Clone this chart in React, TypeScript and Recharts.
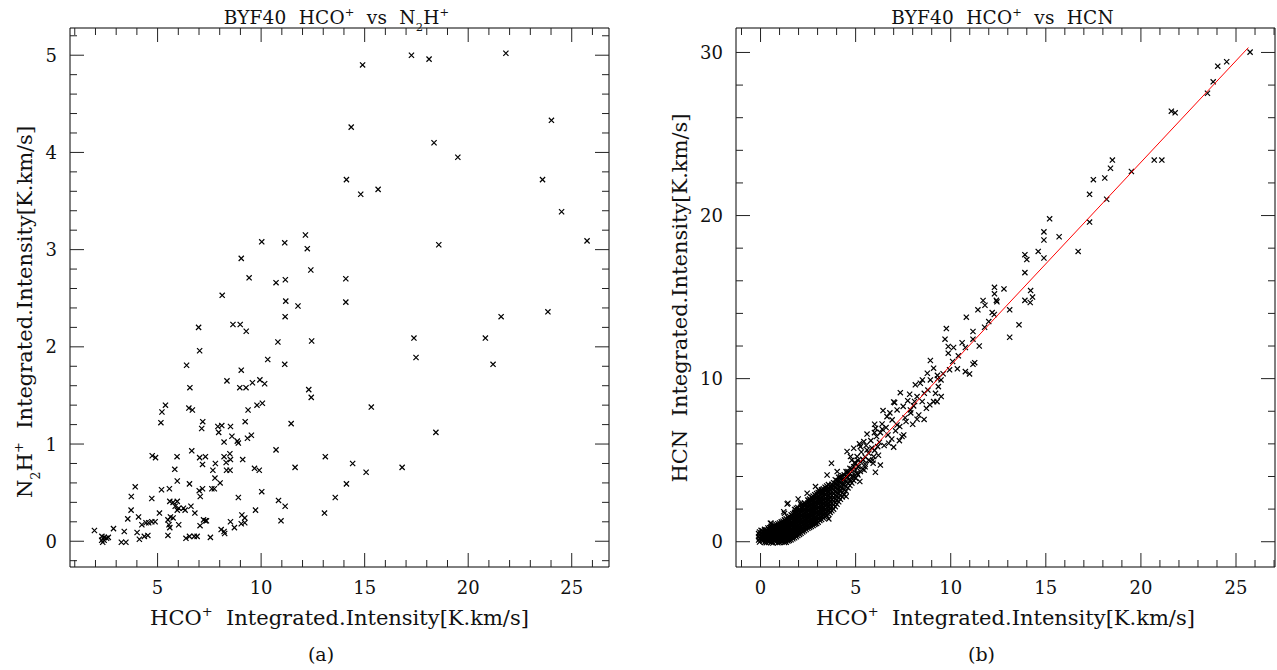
import React from 'react';
import { ScatterChart, Scatter, XAxis, YAxis } from 'recharts';

const FONT = '"DejaVu Serif", serif';
const INK = '#111';

// ---------- Panel (a): HCO+ vs N2H+ ----------
const n2hPoints: [number, number][] = [
  [14.90,4.90],[17.26,5.00],[18.11,4.96],[21.82,5.02],[14.35,4.26],[24.02,4.33],[18.35,4.10],[19.50,3.95],
  [14.12,3.72],[14.81,3.57],[15.65,3.62],[23.59,3.72],[24.51,3.39],[12.14,3.15],[10.03,3.08],[11.14,3.07],
  [12.23,3.01],[18.58,3.05],[25.74,3.09],[9.04,2.91],[12.40,2.79],[9.42,2.71],[10.72,2.66],[11.17,2.69],
  [14.09,2.70],[8.12,2.53],[11.19,2.47],[11.78,2.42],[14.09,2.46],[11.16,2.31],[21.59,2.31],[23.85,2.36],
  [6.98,2.20],[8.64,2.23],[8.99,2.23],[9.28,2.16],[10.81,2.05],[12.44,2.06],[17.38,2.09],[20.83,2.09],
  [7.03,1.96],[17.48,1.89],[21.20,1.82],[10.32,1.87],[11.14,1.82],[6.40,1.81],[9.04,1.76],[8.35,1.65],
  [6.56,1.58],[8.97,1.58],[9.27,1.58],[9.58,1.63],[9.94,1.66],[10.17,1.62],[12.30,1.56],[12.42,1.48],
  [5.38,1.40],[5.21,1.33],[5.16,1.22],[6.51,1.37],[6.68,1.35],[9.37,1.35],[9.80,1.40],[10.06,1.42],
  [15.32,1.38],[7.18,1.23],[7.13,1.16],[7.91,1.18],[8.10,1.19],[7.95,1.12],[8.52,1.18],[9.23,1.23],
  [11.45,1.21],[18.44,1.12],[8.21,1.02],[8.59,1.08],[8.85,1.03],[8.90,1.01],[9.34,1.06],[9.53,1.09],
  [4.74,0.88],[4.90,0.86],[5.94,0.87],[6.65,0.93],[7.03,0.86],[7.31,0.87],[7.17,0.79],[8.21,0.87],
  [8.31,0.81],[8.49,0.90],[8.52,0.84],[9.11,0.84],[7.79,0.80],[7.67,0.73],[8.33,0.73],[8.50,0.73],
  [5.83,0.74],[10.72,0.94],[13.10,0.87],[14.42,0.80],[9.68,0.75],[9.91,0.73],[11.64,0.76],[15.07,0.71],
  [16.81,0.76],[7.77,0.65],[8.02,0.60],[5.95,0.62],[6.54,0.59],[14.12,0.59],[3.92,0.56],[5.19,0.53],
  [5.57,0.54],[7.01,0.52],[7.17,0.54],[7.62,0.54],[7.74,0.54],[7.06,0.46],[10.03,0.51],[8.90,0.45],
  [10.84,0.42],[11.16,0.36],[13.58,0.45],[3.73,0.46],[4.72,0.44],[5.59,0.41],[5.75,0.40],[5.95,0.41],
  [5.85,0.36],[6.02,0.34],[6.25,0.34],[6.33,0.32],[6.61,0.36],[6.80,0.29],[5.95,0.32],[3.72,0.32],
  [3.56,0.23],[4.08,0.25],[5.09,0.29],[5.50,0.22],[5.62,0.25],[5.75,0.24],[5.55,0.17],[5.59,0.14],
  [6.02,0.17],[4.24,0.17],[4.44,0.19],[4.57,0.19],[4.88,0.20],[4.72,0.20],[9.73,0.32],[10.96,0.21],
  [13.06,0.29],[7.22,0.22],[7.31,0.21],[7.36,0.21],[7.05,0.16],[8.52,0.20],[9.07,0.27],[9.21,0.24],
  [9.04,0.18],[9.21,0.19],[8.71,0.14],[8.07,0.12],[8.21,0.10],[8.24,0.08],[2.87,0.13],[1.95,0.11],
  [3.39,0.10],[4.01,0.09],[4.53,0.06],[4.36,0.05],[5.50,0.06],[2.31,0.05],[2.43,0.04],[2.54,0.03],
  [2.62,0.04],[2.35,-0.01],[2.30,0.01],[2.42,0.01],[3.25,-0.01],[3.47,-0.01],[4.12,0.02],[6.37,0.03],
  [6.54,0.05],[6.77,0.05],[6.91,0.05],[7.55,0.04],
];
const n2hXDomain: [number, number] = [0.77, 26.8];
const n2hYDomain: [number, number] = [-0.265, 5.28];
const n2hXTicks = [1,2,3,4,5,6,7,8,9,10,11,12,13,14,15,16,17,18,19,20,21,22,23,24,25,26];
const n2hXMajor = [5,10,15,20,25];
const n2hYTicks = [-0.2,0,0.2,0.4,0.6,0.8,1,1.2,1.4,1.6,1.8,2,2.2,2.4,2.6,2.8,3,3.2,3.4,3.6,3.8,4,4.2,4.4,4.6,4.8,5,5.2];
const n2hYMajor = [0,1,2,3,4,5];

// ---------- Panel (b): HCO+ vs HCN ----------
// dense core near the origin, read as columns: [x, y values]
const hcnCoreCols: [number, number[]][] = [
  [-0.05,[-0.02,0.2,0.41,0.6]],
  [0.03,[0.1,0.3,0.5,0.7]],
  [0.12,[0.05,0.25,0.44,0.66]],
  [0.21,[-0.05,0.15,0.35,0.55,0.76]],
  [0.3,[-0.06,0.14,0.33,0.52,0.74]],
  [0.39,[0.04,0.24,0.43,0.63,0.84]],
  [0.48,[0.02,0.22,0.41,0.62,0.86]],
  [0.56,[-0.04,0.12,0.32,0.52,0.73,0.95]],
  [0.65,[-0.08,0.1,0.3,0.5,0.7,0.95]],
  [0.74,[0.05,0.21,0.41,0.6,0.82,1.0]],
  [0.82,[0.0,0.19,0.39,0.6,0.81,1.05]],
  [0.91,[-0.06,0.1,0.29,0.5,0.7,0.91,1.1]],
  [1.0,[-0.05,0.12,0.31,0.52,0.72,0.92,1.15]],
  [1.09,[0.02,0.21,0.41,0.62,0.82,1.02,1.22]],
  [1.18,[0.05,0.24,0.44,0.64,0.85,1.05,1.26]],
  [1.26,[-0.04,0.14,0.34,0.54,0.74,0.95,1.15,1.34]],
  [1.35,[-0.03,0.15,0.36,0.57,0.78,0.98,1.2,1.4]],
  [1.44,[0.04,0.25,0.46,0.67,0.88,1.08,1.3,1.5]],
  [1.52,[0.08,0.3,0.5,0.7,0.92,1.12,1.35,1.55]],
  [1.61,[0.12,0.34,0.56,0.78,1.0,1.2,1.42,1.65]],
  [1.7,[0.18,0.4,0.62,0.84,1.05,1.27,1.5,1.72]],
  [1.79,[0.24,0.46,0.68,0.9,1.12,1.34,1.56,1.8,1.98]],
  [1.88,[0.3,0.52,0.73,0.95,1.18,1.4,1.62,1.86,2.05]],
  [1.96,[0.38,0.6,0.82,1.04,1.26,1.48,1.7,1.92,2.1]],
  [2.05,[0.45,0.66,0.88,1.1,1.32,1.55,1.78,2.0]],
  [2.13,[0.52,0.74,0.96,1.18,1.4,1.62,1.85,2.08,2.25]],
  [2.22,[0.6,0.82,1.03,1.25,1.47,1.7,1.92,2.15,2.3]],
  [2.31,[0.68,0.9,1.12,1.34,1.56,1.78,2.0,2.22,2.38]],
  [2.4,[0.75,0.96,1.18,1.4,1.62,1.85,2.08,2.3]],
  [2.49,[0.82,1.04,1.26,1.48,1.7,1.92,2.15,2.38,2.55]],
  [2.58,[0.88,1.1,1.32,1.55,1.77,2.0,2.22,2.45,2.62]],
  [2.67,[0.94,1.16,1.38,1.6,1.83,2.06,2.3,2.52,2.72]],
  [2.76,[1.0,1.22,1.45,1.68,1.9,2.12,2.36,2.6,2.8]],
  [2.85,[1.06,1.28,1.5,1.73,1.96,2.2,2.42,2.66,2.88]],
  [2.95,[1.12,1.35,1.58,1.8,2.02,2.25,2.5,2.72,2.95]],
  [3.03,[1.2,1.42,1.65,1.88,2.1,2.34,2.58,2.82,3.02]],
  [3.12,[1.3,1.52,1.75,1.98,2.2,2.42,2.66,2.9,3.1]],
  [3.21,[1.36,1.6,1.82,2.05,2.28,2.5,2.74,2.98,3.18]],
  [3.3,[1.45,1.68,1.9,2.12,2.35,2.58,2.82,3.05,3.25]],
  [3.39,[1.52,1.76,1.98,2.2,2.44,2.66,2.9,3.14,3.34]],
  [3.48,[1.6,1.85,2.08,2.3,2.52,2.76,3.0,3.22,3.42]],
  [3.57,[1.7,1.94,2.16,2.38,2.6,2.84,3.08,3.3,3.5]],
  [3.66,[1.8,2.02,2.25,2.48,2.7,2.93,3.18,3.4]],
  [3.75,[1.9,2.14,2.36,2.6,2.82,3.05,3.28,3.52]],
  [3.84,[2.0,2.25,2.48,2.7,2.93,3.15,3.4,3.62]],
  [3.93,[2.15,2.4,2.62,2.86,3.1,3.34,3.58,3.8]],
  [4.02,[2.3,2.55,2.78,3.0,3.25,3.5,3.75]],
  [4.11,[2.45,2.7,2.95,3.2,3.45,3.7,3.95]],
  [4.2,[2.6,2.85,3.1,3.35,3.6,3.9]],
  [4.3,[2.75,3.0,3.28,3.55,3.82,4.05]],
  [4.4,[2.9,3.2,3.5,3.8,4.1]],
  [4.5,[3.1,3.4,3.7,4.0,4.3]],
  [4.6,[3.3,3.6,3.95,4.3]],
  [4.7,[3.45,3.8,4.15,4.5]],
  [4.8,[3.6,4.0,4.45]],
  [4.9,[3.75,4.15,4.6]],
  [5.0,[3.9,4.4,4.8]],
  [5.12,[4.1,4.6,5.0]],
  [5.25,[4.3,4.9]],
  [5.38,[4.45,5.05]],
  [5.5,[4.6,5.2]],
];
// second, offset layer of the solid black core (x 0 - 3.6)
const hcnCoreFill: [number, number[]][] = [
  [-0.1,[0.1,0.31,0.5]],
  [0.08,[0.15,0.35,0.55]],
  [0.26,[0.05,0.24,0.44,0.64]],
  [0.44,[0.12,0.32,0.52,0.74]],
  [0.6,[0.02,0.2,0.4,0.6,0.83]],
  [0.78,[0.1,0.3,0.5,0.7,0.92]],
  [0.96,[0.02,0.21,0.41,0.62,0.82,1.03]],
  [1.13,[0.12,0.32,0.52,0.73,0.94,1.14]],
  [1.31,[0.05,0.25,0.46,0.67,0.88,1.08,1.3]],
  [1.48,[0.15,0.36,0.58,0.8,1.0,1.22,1.44]],
  [1.66,[0.28,0.5,0.72,0.94,1.16,1.38,1.6]],
  [1.84,[0.4,0.62,0.84,1.06,1.28,1.5,1.74,1.94]],
  [2.01,[0.55,0.77,0.99,1.21,1.43,1.66,1.9]],
  [2.18,[0.7,0.92,1.14,1.36,1.58,1.81,2.04]],
  [2.36,[0.85,1.07,1.29,1.51,1.74,1.97,2.2]],
  [2.54,[0.98,1.2,1.42,1.65,1.88,2.1,2.33,2.52]],
  [2.72,[1.1,1.33,1.56,1.79,2.01,2.24,2.48,2.7]],
  [2.9,[1.24,1.46,1.69,1.92,2.14,2.37,2.6,2.84]],
  [3.08,[1.4,1.63,1.86,2.09,2.31,2.54,2.78,3.0]],
  [3.26,[1.56,1.79,2.01,2.24,2.46,2.7,2.94,3.15]],
  [3.44,[1.72,1.96,2.19,2.41,2.64,2.88,3.1,3.3]],
  [3.62,[1.9,2.13,2.36,2.59,2.82,3.05,3.28]],
];
const hcnMidPoints: [number, number][] = [
  [10.82,13.77],[11.43,14.22],[11.70,14.79],[12.18,14.05],[12.29,13.93],[12.43,14.71],[13.10,14.22],
  [14.18,14.67],[13.59,13.30],[13.10,12.54],[11.78,13.15],[11.17,12.89],[11.17,12.42],[10.77,11.91],
  [9.77,13.07],[9.70,12.42],[9.87,11.97],[9.87,11.56],[10.15,11.91],[8.93,11.11],[10.10,11.05],
  [10.35,10.60],[9.94,10.54],[10.77,10.43],[10.99,10.29],[11.26,10.98],[11.17,10.88],[9.10,10.64],
  [8.77,10.33],[8.51,9.92],[8.93,9.92],[9.31,9.98],[9.49,9.92],[9.35,9.51],[8.40,9.72],[8.14,9.62],
  [7.35,9.14],[7.84,9.04],[8.23,8.90],[8.61,9.10],[7.00,8.57],[7.05,8.53],[7.74,8.65],[9.10,8.59],
  [9.28,8.59],[8.05,8.33],[8.72,8.18],[6.44,8.04],[7.18,8.08],[7.88,8.08],[8.32,7.77],[8.23,7.51],
  [6.65,7.67],[6.92,7.47],[7.32,7.06],[7.65,7.37],[7.18,7.16],[6.39,7.22],[5.99,6.69],[6.30,6.69],
  [7.53,6.55],[7.44,6.45],[6.74,6.04],[6.16,5.83],[5.43,6.14],[4.90,5.73],[5.25,5.83],[5.60,5.63],
  [5.69,5.42],[5.95,5.22],[5.92,4.81],[6.04,4.26],[5.69,5.01],[5.39,5.01],[4.55,5.53],[4.73,5.22],
  [5.08,5.22],[3.73,4.81],[4.03,4.30],[3.50,4.09],[4.20,3.99],[4.55,4.20],[4.73,3.69],[4.90,3.99],
  [5.08,4.20],[5.16,4.61],[5.22,3.69],[4.38,2.87],[4.50,2.77],[2.89,3.38],[3.06,3.17],[3.24,3.07],
  [3.76,3.38],[4.20,3.17],[4.03,3.48],[2.45,2.97],[1.98,2.62],[1.44,2.36],[3.59,1.40],[3.19,1.95],
  [2.89,1.13],[1.26,1.74],[2.10,2.36],[2.63,2.56],[3.15,2.56],[3.50,2.77],[3.76,2.56],[0.52,1.13],
  [1.40,2.31],[1.22,1.84],[0.56,1.13],
  [5.30,5.50],[5.55,5.90],[5.80,6.20],[6.10,6.45],[6.40,6.90],[6.60,7.00],[6.00,5.60],[5.75,4.95],
  [6.20,5.30],[6.50,5.90],[6.90,6.30],[7.10,6.80],[7.60,7.60],[7.90,7.90],[8.10,8.60],[8.50,8.60],
  [8.80,9.30],[9.20,9.10],[9.60,10.30],[9.30,10.20],[7.50,8.30],[6.80,7.90],[6.00,7.20],[5.60,6.60],
  [5.20,6.00],[4.80,5.00],[5.90,5.00],[6.30,4.70],[7.00,5.80],[7.30,6.20],[8.00,7.20],[8.60,7.50],
  [8.90,8.40],[9.50,8.90],[10.40,11.40],[10.60,12.20],[11.50,12.00],[12.00,13.50],[5.45,4.40],
  [5.85,5.75],[6.25,6.10],[4.95,4.85],[5.50,4.75],[6.05,6.95],[6.70,6.55],
];
const hcnHighPoints: [number, number][] = [
  [25.74,30.02],[24.51,29.43],[24.04,29.16],[23.8,28.2],[23.5,27.5],[21.6,26.4],[21.8,26.3],[21.1,23.4],
  [20.7,23.4],[19.5,22.7],[18.5,23.4],[18.4,22.9],[17.5,22.2],[18.1,22.3],[17.3,21.3],[18.2,21.0],
  [17.3,19.6],[16.7,17.8],[15.2,19.8],[14.9,19.0],[15.7,18.7],[14.9,18.5],[14.6,17.8],[14.9,17.4],
  [13.9,17.6],[14.0,17.3],[13.9,16.5],[14.2,15.4],[14.3,15.0],[13.9,14.8],[12.8,15.5],[12.3,15.6],
  [12.3,15.2],[12.4,14.8],[11.8,14.5],
];
const fitX = [4.3, 25.65];
const fitY = [3.72, 30.30];
const hcnXDomain: [number, number] = [-1.29, 27.05];
const hcnYDomain: [number, number] = [-1.55, 31.5];
const hcnXTicks = [-1,0,1,2,3,4,5,6,7,8,9,10,11,12,13,14,15,16,17,18,19,20,21,22,23,24,25,26,27];
const hcnXMajor = [0,5,10,15,20,25];
const hcnYTicks = [0,2,4,6,8,10,12,14,16,18,20,22,24,26,28,30];
const hcnYMajor = [0,10,20,30];

type Seg = [string, number];
const titleA: Seg[] = [['BYF40  HCO',0],['+',1],['  vs  N',0],['2',-1],['H',0],['+',1]];
const titleB: Seg[] = [['BYF40  HCO',0],['+',1],['  vs  HCN',0]];
const xTitle: Seg[] = [['HCO',0],['+',1],['  Integrated.Intensity[K.km/s]',0]];
const yTitleA: Seg[] = [['N',0],['2',-1],['H',0],['+',1],['  Integrated.Intensity[K.km/s]',0]];
const yTitleB: Seg[] = [['HCN  Integrated.Intensity[K.km/s]',0]];

type Pt = { x: number; y: number };
const toPts = (a: [number, number][]): Pt[] => a.map(([x, y]) => ({ x, y }));
const fromCols = (c: [number, number[]][]): Pt[] => c.flatMap(([x, ys]) => ys.map((y) => ({ x, y })));
const n2hData = toPts(n2hPoints);
const hcnData: Pt[] = [
  ...fromCols(hcnCoreCols),
  ...fromCols(hcnCoreFill),
  ...toPts(hcnMidPoints),
  ...toPts(hcnHighPoints),
];
const fitData: Pt[] = fitX.map((x, i) => ({ x, y: fitY[i] }));

function rich(segs: Seg[], size: number) {
  let cur = 0;
  return segs.map((s, i) => {
    const target = s[1] > 0 ? -0.42 * size : s[1] < 0 ? 0.38 * size : 0;
    const dy = target - cur;
    cur = target;
    return (
      <tspan key={i} dy={dy} fontSize={s[1] !== 0 ? size * 0.62 : size}>
        {s[0]}
      </tspan>
    );
  });
}

function Cross(props: any) {
  const { cx, cy } = props;
  if (cx == null || cy == null) return <g />;
  const r = 2.6;
  return (
    <path
      d={`M${cx - r},${cy - r}L${cx + r},${cy + r}M${cx - r},${cy + r}L${cx + r},${cy - r}`}
      stroke="#000"
      strokeWidth={1.2}
      fill="none"
    />
  );
}
const NoShape = () => <g />;

const TICK_FS = 18;
function tickFactory(side: 'bottom' | 'top' | 'left' | 'right', majors: number[], showLabel: boolean) {
  return (props: any) => {
    const { x, y, payload } = props;
    const v = payload.value;
    const major = majors.includes(v);
    const len = major ? 14 : 7;
    let line: React.ReactNode = null;
    let label: React.ReactNode = null;
    if (side === 'bottom') {
      line = <line x1={x} y1={y} x2={x} y2={y - len} stroke="#222" strokeWidth={1} />;
      if (major && showLabel)
        label = <text x={x} y={y + 27} textAnchor="middle" fontFamily={FONT} fontSize={TICK_FS} fill={INK}>{v}</text>;
    } else if (side === 'top') {
      line = <line x1={x} y1={y} x2={x} y2={y + len} stroke="#222" strokeWidth={1} />;
    } else if (side === 'left') {
      line = <line x1={x} y1={y} x2={x + len} y2={y} stroke="#222" strokeWidth={1} />;
      if (major && showLabel)
        label = <text x={x - 13} y={y + 6.5} textAnchor="end" fontFamily={FONT} fontSize={TICK_FS} fill={INK}>{v}</text>;
    } else {
      line = <line x1={x} y1={y} x2={x - len} y2={y} stroke="#222" strokeWidth={1} />;
    }
    return <g>{line}{label}</g>;
  };
}

interface PanelProps {
  offsetX: number;
  width: number;
  data: Pt[];
  fit?: Pt[];
  xDomain: [number, number];
  xTicks: number[];
  xMajor: number[];
  yDomain: [number, number];
  yTicks: number[];
  yMajor: number[];
  leftW: number;
  rightW: number;
  title: Seg[];
  yTitle: Seg[];
  yTitleX: number;
  yTitleY: number;
  caption: string;
  captionX: number;
}

const AX_FS = 21;
const TITLE_FS = 18.5;

function Panel(p: PanelProps) {
  const cx = (p.leftW + (p.width - p.rightW)) / 2;
  const axisLine = { stroke: '#000', strokeWidth: 1 };
  return (
    <div style={{ position: 'absolute', left: p.offsetX, top: 0, width: p.width, height: 670 }}>
      <ScatterChart width={p.width} height={670} margin={{ top: 0, right: 0, bottom: 0, left: 0 }}>
        <XAxis
          xAxisId="b" type="number" dataKey="x" orientation="bottom" height={103}
          domain={p.xDomain} ticks={p.xTicks} interval={0} allowDataOverflow
          tickSize={0} tickMargin={0} tickLine={false} axisLine={axisLine}
          tick={tickFactory('bottom', p.xMajor, true)}
          label={() => (
            <g>
              <text x={cx} y={625} textAnchor="middle" fontFamily={FONT} fontSize={AX_FS} fill={INK} style={{ whiteSpace: 'pre' }}>
                {rich(xTitle, AX_FS)}
              </text>
              <text x={p.captionX} y={661} textAnchor="middle" fontFamily={FONT} fontSize={19} fill={INK}>
                {p.caption}
              </text>
            </g>
          )}
        />
        <XAxis
          xAxisId="t" type="number" dataKey="x" orientation="top" height={28}
          domain={p.xDomain} ticks={p.xTicks} interval={0} allowDataOverflow
          tickSize={0} tickMargin={0} tickLine={false} axisLine={axisLine}
          tick={tickFactory('top', p.xMajor, false)}
          label={() => (
            <text x={cx - 3} y={24} textAnchor="middle" fontFamily={FONT} fontSize={TITLE_FS} letterSpacing={0.2} fill={INK} style={{ whiteSpace: 'pre' }}>
              {rich(p.title, TITLE_FS)}
            </text>
          )}
        />
        <YAxis
          yAxisId="l" type="number" dataKey="y" orientation="left" width={p.leftW}
          domain={p.yDomain} ticks={p.yTicks} interval={0} allowDataOverflow
          tickSize={0} tickMargin={0} tickLine={false} axisLine={axisLine}
          tick={tickFactory('left', p.yMajor, true)}
          label={() => (
            <text
              transform={`translate(${p.yTitleX},${p.yTitleY}) rotate(-90)`}
              textAnchor="middle" fontFamily={FONT} fontSize={AX_FS} fill={INK} style={{ whiteSpace: 'pre' }}
            >
              {rich(p.yTitle, AX_FS)}
            </text>
          )}
        />
        <YAxis
          yAxisId="r" type="number" dataKey="y" orientation="right" width={p.rightW}
          domain={p.yDomain} ticks={p.yTicks} interval={0} allowDataOverflow
          tickSize={0} tickMargin={0} tickLine={false} axisLine={axisLine}
          tick={tickFactory('right', p.yMajor, false)}
        />
        <Scatter xAxisId="b" yAxisId="l" data={p.data} shape={Cross} isAnimationActive={false} />
        <Scatter xAxisId="t" yAxisId="r" data={[]} shape={NoShape} isAnimationActive={false} />
        {p.fit && (
          <Scatter
            xAxisId="b" yAxisId="l" data={p.fit} shape={NoShape}
            line={{ stroke: '#ff0000', strokeWidth: 1 }} isAnimationActive={false}
          />
        )}
      </ScatterChart>
    </div>
  );
}

export default function App() {
  return (
    <div style={{ position: 'absolute', left: 0, top: 0, width: 1277, height: 670, background: '#fff' }}>
      <Panel
        offsetX={0} width={640} data={n2hData}
        xDomain={n2hXDomain} xTicks={n2hXTicks} xMajor={n2hXMajor}
        yDomain={n2hYDomain} yTicks={n2hYTicks} yMajor={n2hYMajor}
        leftW={70} rightW={31}
        title={titleA} yTitle={yTitleA} yTitleX={32} yTitleY={312}
        caption="(a)" captionX={321}
      />
      <Panel
        offsetX={640} width={637} data={hcnData} fit={fitData}
        xDomain={hcnXDomain} xTicks={hcnXTicks} xMajor={hcnXMajor}
        yDomain={hcnYDomain} yTicks={hcnYTicks} yMajor={hcnYMajor}
        leftW={96} rightW={2}
        title={titleB} yTitle={yTitleB} yTitleX={47} yTitleY={298}
        caption="(b)" captionX={341.5}
      />
    </div>
  );
}
